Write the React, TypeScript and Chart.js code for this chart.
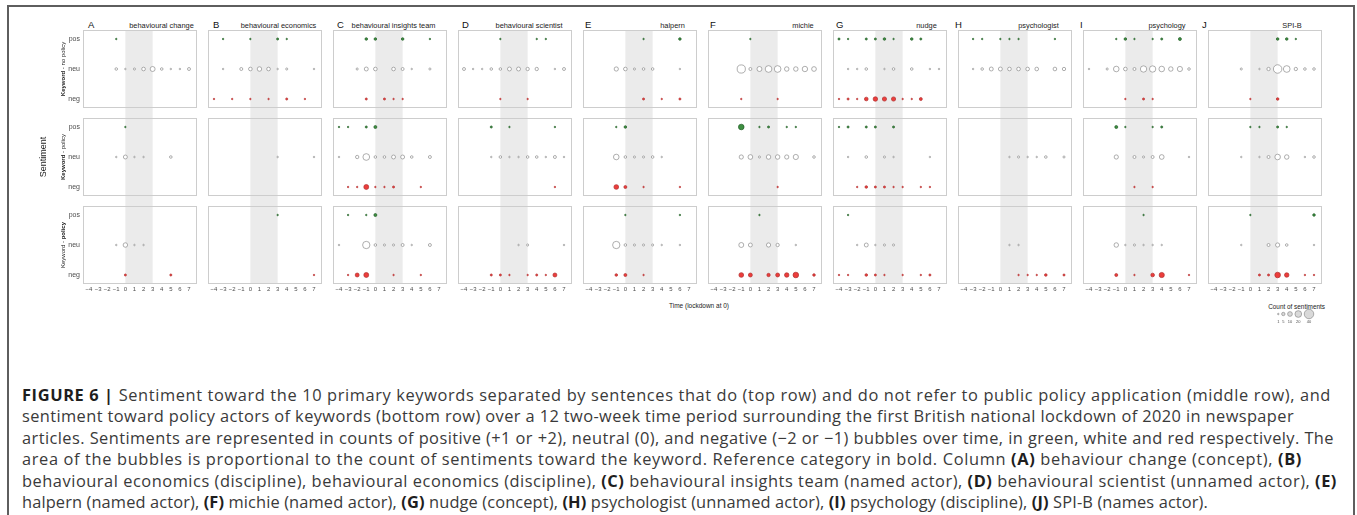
import React, { useEffect, useLayoutEffect, useRef } from "react";
import { Chart, registerables } from "chart.js";

Chart.register(...registerables);

// ---------------------------------------------------------------------------
// Data
// ---------------------------------------------------------------------------
const KEYWORDS = [
  "behavioural change",
  "behavioural economics",
  "behavioural insights team",
  "behavioural scientist",
  "halpern",
  "michie",
  "nudge",
  "psychologist",
  "psychology",
  "SPI-B",
];
const PANEL_LETTERS = ["A", "B", "C", "D", "E", "F", "G", "H", "I", "J"];
// two-week periods, lockdown at 0
const TIME_POINTS = [-4, -3, -2, -1, 0, 1, 2, 3, 4, 5, 6, 7];
const SENTIMENT_LABELS = ["neg", "neu", "pos"];
const LOCKDOWN_WINDOW = [0, 3];
const LEGEND_COUNTS = [1, 5, 10, 20, 40];

// Counts per keyword (one row per keyword, one column per time point; 0 = none)
// Sentences without public-policy reference
const noPolicyPos = [
  [0, 0, 0, 1, 0, 0, 0, 0, 0, 0, 0, 0],
  [0, 1, 0, 0, 1, 0, 0, 2, 1, 0, 0, 0],
  [0, 0, 0, 3, 3, 0, 0, 3, 0, 0, 1, 0],
  [0, 0, 0, 0, 1, 0, 0, 0, 1, 1, 0, 0],
  [0, 0, 0, 0, 0, 0, 1, 0, 0, 0, 3, 0],
  [0, 0, 0, 0, 1, 0, 0, 0, 0, 0, 0, 0],
  [2, 1, 0, 2, 2, 3, 1, 0, 3, 2, 0, 0],
  [0, 1, 1, 0, 1, 1, 1, 0, 0, 0, 1, 0],
  [0, 0, 0, 1, 3, 1, 0, 1, 2, 0, 4, 0],
  [0, 0, 0, 0, 0, 0, 0, 3, 3, 1, 0, 0],
];
const noPolicyNeu = [
  [0, 0, 0, 3, 1, 2, 6, 11, 3, 1, 1, 4],
  [0, 1, 0, 4, 6, 9, 6, 1, 2, 0, 0, 1],
  [0, 0, 2, 7, 6, 0, 6, 4, 1, 0, 2, 0],
  [4, 1, 1, 3, 3, 7, 7, 5, 5, 0, 1, 4],
  [0, 0, 0, 8, 6, 2, 3, 3, 0, 0, 1, 0],
  [0, 0, 0, 30, 4, 11, 20, 20, 9, 9, 13, 10],
  [0, 1, 1, 3, 0, 1, 3, 0, 3, 0, 1, 1],
  [0, 1, 3, 7, 7, 6, 6, 6, 6, 0, 6, 5],
  [1, 0, 2, 14, 6, 4, 18, 18, 14, 9, 12, 3],
  [0, 0, 0, 2, 0, 1, 5, 32, 20, 5, 3, 3],
];
const noPolicyNeg = [
  [0, 0, 0, 0, 0, 0, 0, 0, 0, 0, 0, 0],
  [1, 0, 1, 0, 1, 0, 1, 0, 2, 0, 1, 0],
  [0, 0, 0, 2, 0, 2, 1, 1, 0, 0, 0, 0],
  [0, 0, 0, 0, 1, 0, 0, 1, 0, 0, 0, 0],
  [0, 0, 0, 0, 0, 0, 2, 0, 1, 0, 2, 0],
  [0, 0, 0, 1, 0, 0, 0, 1, 0, 0, 0, 0],
  [1, 2, 1, 6, 9, 8, 8, 1, 1, 4, 0, 0],
  [0, 0, 0, 0, 0, 0, 0, 0, 0, 0, 0, 0],
  [0, 0, 0, 0, 1, 0, 2, 1, 0, 0, 0, 0],
  [0, 0, 0, 0, 1, 0, 0, 3, 0, 0, 0, 0],
];

// Sentences referring to public policy
const policyPos = [
  [0, 0, 0, 0, 1, 0, 0, 0, 0, 0, 0, 0],
  [0, 0, 0, 0, 0, 0, 0, 0, 0, 0, 0, 0],
  [1, 1, 0, 2, 4, 0, 0, 0, 0, 0, 0, 0],
  [0, 0, 0, 2, 0, 1, 0, 0, 0, 0, 1, 0],
  [0, 0, 0, 1, 3, 0, 0, 0, 0, 0, 0, 0],
  [0, 0, 0, 14, 0, 1, 2, 0, 1, 1, 0, 0],
  [1, 2, 0, 2, 2, 0, 2, 0, 0, 0, 0, 0],
  [0, 0, 0, 0, 0, 0, 0, 0, 0, 0, 0, 0],
  [0, 0, 0, 4, 1, 0, 0, 1, 2, 0, 0, 0],
  [0, 0, 0, 0, 1, 1, 0, 2, 1, 0, 0, 0],
];
const policyNeu = [
  [0, 0, 0, 1, 7, 1, 1, 0, 0, 3, 0, 0],
  [0, 0, 0, 0, 0, 0, 0, 1, 0, 0, 0, 1],
  [1, 0, 5, 20, 3, 3, 7, 7, 3, 0, 4, 0],
  [0, 0, 0, 1, 3, 1, 1, 3, 3, 1, 4, 1],
  [0, 0, 0, 14, 3, 2, 2, 3, 1, 0, 0, 0],
  [0, 0, 0, 8, 10, 2, 9, 9, 8, 12, 0, 3],
  [0, 1, 0, 3, 0, 2, 1, 0, 0, 0, 1, 0],
  [0, 0, 0, 0, 0, 1, 2, 1, 1, 3, 0, 2],
  [0, 0, 0, 8, 0, 4, 2, 4, 10, 0, 0, 1],
  [0, 0, 0, 1, 0, 1, 4, 14, 9, 0, 1, 3],
];
const policyNeg = [
  [0, 0, 0, 0, 0, 0, 0, 0, 0, 0, 0, 0],
  [0, 0, 0, 0, 0, 0, 0, 0, 0, 0, 0, 0],
  [0, 1, 1, 11, 1, 1, 2, 0, 0, 1, 0, 0],
  [0, 0, 0, 0, 0, 0, 0, 0, 0, 0, 1, 0],
  [0, 0, 0, 10, 4, 0, 1, 0, 0, 0, 1, 0],
  [0, 0, 0, 0, 0, 0, 0, 1, 0, 0, 0, 0],
  [0, 0, 1, 3, 2, 2, 1, 1, 0, 1, 1, 0],
  [0, 0, 0, 0, 0, 0, 0, 0, 0, 0, 0, 0],
  [0, 0, 0, 0, 0, 1, 0, 1, 0, 0, 0, 0],
  [0, 0, 0, 0, 0, 0, 0, 0, 0, 0, 0, 0],
];

// Sentiment toward policy actors of the keyword
const actorsPos = [
  [0, 0, 0, 0, 0, 0, 0, 0, 0, 0, 0, 0],
  [0, 0, 0, 0, 0, 0, 0, 1, 0, 0, 0, 0],
  [0, 1, 0, 1, 4, 0, 0, 0, 0, 0, 0, 0],
  [0, 0, 0, 0, 0, 0, 0, 0, 0, 0, 0, 0],
  [0, 0, 0, 0, 1, 0, 0, 0, 0, 0, 1, 0],
  [0, 0, 0, 0, 0, 1, 0, 0, 0, 0, 0, 0],
  [0, 1, 0, 0, 0, 0, 0, 0, 0, 0, 0, 0],
  [0, 0, 0, 0, 0, 0, 0, 0, 0, 0, 0, 0],
  [0, 0, 0, 0, 0, 0, 1, 0, 0, 0, 0, 0],
  [0, 0, 0, 0, 1, 0, 0, 0, 0, 0, 0, 3],
];
const actorsNeu = [
  [0, 0, 0, 1, 9, 1, 1, 0, 0, 0, 0, 0],
  [0, 0, 0, 0, 0, 0, 0, 0, 0, 0, 0, 0],
  [1, 0, 0, 24, 3, 2, 2, 4, 1, 0, 4, 0],
  [0, 0, 0, 0, 0, 0, 1, 2, 0, 0, 0, 1],
  [0, 0, 0, 24, 3, 2, 2, 2, 1, 0, 1, 0],
  [0, 0, 0, 11, 7, 0, 8, 5, 0, 1, 0, 0],
  [0, 0, 1, 7, 1, 2, 2, 0, 0, 0, 0, 0],
  [0, 0, 0, 0, 0, 1, 1, 0, 0, 0, 0, 0],
  [0, 0, 0, 9, 1, 2, 1, 1, 1, 0, 0, 0],
  [0, 0, 0, 1, 0, 0, 4, 8, 3, 0, 0, 1],
];
const actorsNeg = [
  [0, 0, 0, 0, 2, 0, 0, 0, 0, 2, 0, 0],
  [0, 0, 0, 0, 0, 0, 0, 0, 0, 0, 0, 1],
  [0, 1, 7, 11, 0, 0, 1, 0, 0, 1, 0, 0],
  [0, 0, 0, 2, 2, 1, 0, 1, 2, 1, 7, 0],
  [0, 0, 0, 3, 4, 0, 1, 0, 0, 0, 0, 0],
  [0, 0, 0, 10, 7, 0, 5, 7, 9, 14, 0, 3],
  [1, 1, 0, 3, 2, 1, 0, 1, 0, 1, 2, 0],
  [0, 0, 0, 0, 0, 0, 1, 1, 1, 3, 0, 2],
  [0, 0, 0, 4, 0, 1, 0, 6, 12, 0, 0, 1],
  [0, 0, 0, 0, 0, 2, 2, 14, 9, 0, 1, 1],
];

type LabelPart = { text: string; bold?: boolean };

const FACET_ROWS = [
  {
    label: [{ text: "Keyword", bold: true }, { text: " - no policy" }] as LabelPart[],
    pos: noPolicyPos,
    neu: noPolicyNeu,
    neg: noPolicyNeg,
  },
  {
    label: [{ text: "Keyword", bold: true }, { text: " - policy" }] as LabelPart[],
    pos: policyPos,
    neu: policyNeu,
    neg: policyNeg,
  },
  {
    label: [{ text: "Keyword - " }, { text: "policy", bold: true }] as LabelPart[],
    pos: actorsPos,
    neu: actorsNeu,
    neg: actorsNeg,
  },
];

// ---------------------------------------------------------------------------
// Layout and style
// ---------------------------------------------------------------------------
const PAGE_W = 1357;
const PAGE_H = 515;
const PANEL_LEFT0 = 83;
const PANEL_PITCH = 125;
const PANEL_W = 114;
const PANEL_H = 78;
const ROW_TOPS = [30, 118, 206];
const ROW_GAP = 10;
const Y_AXIS_W = 22;
const X_AXIS_H = 12;
const X_MIN = -4.66;
const X_MAX = 7.88;
const Y_MIN = 0.7;
const Y_MAX = 3.3;
const LETTER_X = [88, 213, 337, 462, 585, 710, 836, 955, 1080, 1202];
const TITLE_CENTER = [161.5, 278.5, 393.5, 529, 672.5, 803, 926.5, 1038.5, 1167, 1292];

const FONT = "'Liberation Sans', Arial, Helvetica, sans-serif";
const CAPTION_FONT = "'Open Sans', 'Liberation Sans', Arial, sans-serif";
const AXIS_TEXT = "#4d4d4d";
const SHADE = "#ebebeb";
const FRAME = "#cdcdcd";
const POS_FILL = "#3d8f41";
const POS_EDGE = "#245f28";
const NEG_FILL = "#ec3d3b";
const NEG_EDGE = "#b03030";
const NEU_FILL = "#ffffff";
const NEU_EDGE = "#8c8c8c";

// bubble area proportional to count
const radiusOf = (n: number) => 0.75 * Math.sqrt(n);

const formatTime = (v: number) => (v < 0 ? "\u2212" + Math.abs(v) : String(v));

// Lockdown shading plus the light panel frame
const panelFrame = {
  id: "panelFrame",
  beforeDatasetsDraw(chart: any, _args: any, opts: any) {
    const { ctx, chartArea, scales } = chart;
    const x0 = scales.x.getPixelForValue(LOCKDOWN_WINDOW[0]);
    const x1 = scales.x.getPixelForValue(LOCKDOWN_WINDOW[1]);
    const bottom = opts && opts.extendBelow ? chart.height : chartArea.bottom;
    ctx.save();
    ctx.fillStyle = SHADE;
    ctx.fillRect(x0, chartArea.top, x1 - x0, bottom - chartArea.top);
    ctx.strokeStyle = FRAME;
    ctx.lineWidth = 1;
    ctx.strokeRect(
      chartArea.left + 0.5,
      chartArea.top + 0.5,
      chartArea.width - 1,
      chartArea.height - 1
    );
    ctx.restore();
  },
};

function toBubbles(counts: number[], y: number) {
  const out: { x: number; y: number; r: number }[] = [];
  counts.forEach((n, i) => {
    if (n > 0) out.push({ x: TIME_POINTS[i], y, r: radiusOf(n) });
  });
  return out;
}

function Panel({ col, row }: { col: number; row: number }) {
  const ref = useRef<HTMLCanvasElement>(null);
  const showY = col === 0;
  const showX = row === FACET_ROWS.length - 1;
  const w = PANEL_W + (showY ? Y_AXIS_W : 0);
  const h = PANEL_H + (showX ? X_AXIS_H : ROW_GAP);
  const left = PANEL_LEFT0 + col * PANEL_PITCH - (showY ? Y_AXIS_W : 0);
  const top = ROW_TOPS[row];

  useEffect(() => {
    if (!ref.current) return;
    const facet = FACET_ROWS[row];
    const chart = new Chart(ref.current, {
      type: "bubble",
      data: {
        datasets: [
          {
            data: toBubbles(facet.neu[col], 2),
            backgroundColor: NEU_FILL,
            borderColor: NEU_EDGE,
            borderWidth: 0.7,
          },
          {
            data: toBubbles(facet.neg[col], 1),
            backgroundColor: NEG_FILL,
            borderColor: NEG_EDGE,
            borderWidth: 0.7,
          },
          {
            data: toBubbles(facet.pos[col], 3),
            backgroundColor: POS_FILL,
            borderColor: POS_EDGE,
            borderWidth: 0.7,
          },
        ],
      },
      options: {
        responsive: false,
        animation: false,
        devicePixelRatio: 1,
        events: [],
        layout: {
          autoPadding: false,
          padding: { left: 0, right: 0, top: 0, bottom: showX ? 0 : ROW_GAP },
        },
        plugins: {
          legend: { display: false },
          tooltip: { enabled: false },
          panelFrame: { extendBelow: !showX },
        } as any,
        scales: {
          x: {
            type: "linear",
            min: X_MIN,
            max: X_MAX,
            display: showX,
            grid: { display: false, drawTicks: false },
            border: { display: false },
            ticks: {
              autoSkip: false,
              maxRotation: 0,
              padding: 2,
              color: AXIS_TEXT,
              font: { family: FONT, size: 6 },
              callback: (v: any) => formatTime(Number(v)),
            },
            afterBuildTicks: (s: any) => {
              s.ticks = TIME_POINTS.map((v) => ({ value: v }));
            },
            afterFit: (s: any) => {
              s.height = showX ? X_AXIS_H : 0;
              s.paddingLeft = 0;
              s.paddingRight = 0;
            },
          },
          y: {
            type: "linear",
            min: Y_MIN,
            max: Y_MAX,
            display: showY,
            grid: { display: false, drawTicks: false },
            border: { display: false },
            ticks: {
              autoSkip: false,
              padding: 3,
              color: AXIS_TEXT,
              font: { family: FONT, size: 7 },
              callback: (v: any) => SENTIMENT_LABELS[Number(v) - 1] ?? "",
            },
            afterBuildTicks: (s: any) => {
              s.ticks = SENTIMENT_LABELS.map((_, i) => ({ value: i + 1 }));
            },
            afterFit: (s: any) => {
              s.width = showY ? Y_AXIS_W : 0;
              s.paddingTop = 0;
              s.paddingBottom = 0;
            },
          },
        },
      } as any,
      plugins: [panelFrame],
    });
    return () => chart.destroy();
  }, [col, row]);

  return (
    <canvas
      ref={ref}
      width={w}
      height={h}
      style={{ position: "absolute", left, top, width: w, height: h }}
    />
  );
}

// Size key: "Count of sentiments"
const LEGEND_LEFT = 1270;
const LEGEND_TOP = 309;
const LEGEND_W = 46;
const LEGEND_PLOT_H = 10;
const LEGEND_AXIS_H = 6;
const LEGEND_FIRST_X = 8.3;
const LEGEND_GAP = 2.6;

function SizeLegend() {
  const ref = useRef<HTMLCanvasElement>(null);
  useEffect(() => {
    if (!ref.current) return;
    const radii = LEGEND_COUNTS.map(radiusOf);
    const centers: number[] = [];
    radii.forEach((r, i) => {
      centers.push(
        i === 0 ? LEGEND_FIRST_X : centers[i - 1] + radii[i - 1] + r + LEGEND_GAP
      );
    });
    const chart = new Chart(ref.current, {
      type: "bubble",
      data: {
        datasets: [
          {
            data: centers.map((c, i) => ({ x: c, y: 0.5, r: radii[i] })),
            backgroundColor: "#d9d9d9",
            borderColor: "#8c8c8c",
            borderWidth: 0.7,
            clip: false,
          } as any,
        ],
      },
      options: {
        responsive: false,
        animation: false,
        devicePixelRatio: 1,
        events: [],
        layout: { autoPadding: false, padding: 0 },
        plugins: { legend: { display: false }, tooltip: { enabled: false } },
        scales: {
          x: {
            type: "linear",
            min: 0,
            max: LEGEND_W,
            grid: { display: false, drawTicks: false },
            border: { display: false },
            ticks: {
              autoSkip: false,
              maxRotation: 0,
              padding: 0,
              color: AXIS_TEXT,
              font: { family: FONT, size: 4 },
              callback: (_v: any, i: number) => String(LEGEND_COUNTS[i]),
            },
            afterBuildTicks: (s: any) => {
              s.ticks = centers.map((c) => ({ value: c }));
            },
            afterFit: (s: any) => {
              s.height = LEGEND_AXIS_H;
              s.paddingLeft = 0;
              s.paddingRight = 0;
            },
          },
          y: {
            type: "linear",
            min: 0,
            max: 1,
            display: false,
            afterFit: (s: any) => {
              s.width = 0;
            },
          },
        },
      } as any,
    });
    return () => chart.destroy();
  }, []);
  const h = LEGEND_PLOT_H + LEGEND_AXIS_H;
  return (
    <canvas
      ref={ref}
      width={LEGEND_W}
      height={h}
      style={{ position: "absolute", left: LEGEND_LEFT, top: LEGEND_TOP, width: LEGEND_W, height: h }}
    />
  );
}

// ---------------------------------------------------------------------------
// Caption
// ---------------------------------------------------------------------------
const CAPTION_LINES: LabelPart[][] = [
  [
    { text: "FIGURE 6 |", bold: true },
    {
      text: " Sentiment toward the 10 primary keywords separated by sentences that do (top row) and do not refer to public policy application (middle row), and",
    },
  ],
  [
    {
      text: "sentiment toward policy actors of keywords (bottom row) over a 12 two-week time period surrounding the first British national lockdown of 2020 in newspaper",
    },
  ],
  [
    {
      text: "articles. Sentiments are represented in counts of positive (+1 or +2), neutral (0), and negative (\u22122 or \u22121) bubbles over time, in green, white and red respectively. The",
    },
  ],
  [
    {
      text: "area of the bubbles is proportional to the count of sentiments toward the keyword. Reference category in bold. Column ",
    },
    { text: "(A)", bold: true },
    { text: " behaviour change (concept), " },
    { text: "(B)", bold: true },
  ],
  [
    { text: "behavioural economics (discipline), behavioural economics (discipline), " },
    { text: "(C)", bold: true },
    { text: " behavioural insights team (named actor), " },
    { text: "(D)", bold: true },
    { text: " behavioural scientist (unnamed actor), " },
    { text: "(E)", bold: true },
  ],
  [
    { text: "halpern (named actor), " },
    { text: "(F)", bold: true },
    { text: " michie (named actor), " },
    { text: "(G)", bold: true },
    { text: " nudge (concept), " },
    { text: "(H)", bold: true },
    { text: " psychologist (unnamed actor), " },
    { text: "(I)", bold: true },
    { text: " psychology (discipline), " },
    { text: "(J)", bold: true },
    { text: " SPI-B (names actor)." },
  ],
];
const CAPTION_LEFT = 22;
const CAPTION_TOP = 383.5;
const CAPTION_LINE_H = 21.5;
const CAPTION_LINE_ENDS = [1331, 1294, 1334, 1302, 1337, 1208];

function Parts({ parts, boldColor }: { parts: LabelPart[]; boldColor?: string }) {
  return (
    <>
      {parts.map((p, i) =>
        p.bold ? (
          <b key={i} style={{ fontWeight: 700, color: boldColor }}>
            {p.text}
          </b>
        ) : (
          <span key={i}>{p.text}</span>
        )
      )}
    </>
  );
}

// One caption line, tracked so that it ends where the typeset line ends
function CaptionLine({ parts, index }: { parts: LabelPart[]; index: number }) {
  const ref = useRef<HTMLDivElement>(null);
  useLayoutEffect(() => {
    const el = ref.current;
    if (!el) return;
    const fit = () => {
      el.style.letterSpacing = "0px";
      const natural = el.getBoundingClientRect().width;
      const chars = Math.max((el.textContent || "").length, 1);
      const target = CAPTION_LINE_ENDS[index] - CAPTION_LEFT;
      el.style.letterSpacing = `${(target - natural) / chars}px`;
    };
    fit();
    if ((document as any).fonts && (document as any).fonts.ready) {
      (document as any).fonts.ready.then(fit);
    }
  }, [index]);
  return (
    <div
      ref={ref}
      style={{
        position: "absolute",
        left: CAPTION_LEFT,
        top: CAPTION_TOP + index * CAPTION_LINE_H,
        whiteSpace: "nowrap",
        fontFamily: CAPTION_FONT,
        fontSize: 16.4,
        lineHeight: `${CAPTION_LINE_H}px`,
        color: "#3a3a3a",
      }}
    >
      <Parts parts={parts} boldColor="#1e1e1e" />
    </div>
  );
}

export default function App() {
  const rowCenters = ROW_TOPS.map((t) => t + PANEL_H / 2);
  return (
    <div
      style={{
        position: "fixed",
        left: 0,
        top: 0,
        width: PAGE_W,
        height: PAGE_H,
        overflow: "hidden",
        background: "#ffffff",
        fontFamily: FONT,
      }}
    >
      {/* outer frame */}
      <div
        style={{
          position: "absolute",
          left: 7,
          top: 5,
          width: 1348,
          height: 700,
          boxSizing: "border-box",
          border: "2px solid #5e5e5e",
        }}
      />

      {FACET_ROWS.map((_, row) =>
        KEYWORDS.map((_k, col) => <Panel key={`${row}-${col}`} col={col} row={row} />)
      )}

      {/* facet headings */}
      {PANEL_LETTERS.map((letter, i) => (
        <div
          key={letter}
          style={{
            position: "absolute",
            left: LETTER_X[i],
            top: 20.3,
            fontSize: 9.5,
            lineHeight: "9.5px",
            color: "#111",
            whiteSpace: "nowrap",
          }}
        >
          {letter}
        </div>
      ))}
      {KEYWORDS.map((kw, i) => (
        <div
          key={kw}
          style={{
            position: "absolute",
            left: TITLE_CENTER[i],
            top: 22,
            transform: "translateX(-50%)",
            fontSize: 7.4,
            lineHeight: "7.4px",
            color: "#1a1a1a",
            whiteSpace: "nowrap",
          }}
        >
          {kw}
        </div>
      ))}

      {/* row labels */}
      {FACET_ROWS.map((r, i) => (
        <div
          key={i}
          style={{
            position: "absolute",
            left: 62.5,
            top: rowCenters[i],
            transform: "translate(-50%, -50%) rotate(-90deg)",
            fontSize: 6,
            lineHeight: "7px",
            color: "#1a1a1a",
            whiteSpace: "nowrap",
          }}
        >
          <Parts parts={r.label} />
        </div>
      ))}
      <div
        style={{
          position: "absolute",
          left: 43,
          top: rowCenters[1],
          transform: "translate(-50%, -50%) rotate(-90deg)",
          fontSize: 9,
          lineHeight: "10px",
          color: "#1a1a1a",
          whiteSpace: "nowrap",
        }}
      >
        Sentiment
      </div>

      {/* x-axis title */}
      <div
        style={{
          position: "absolute",
          left: 699,
          top: 305.2,
          transform: "translate(-50%, -50%)",
          fontSize: 6.5,
          lineHeight: "7px",
          color: "#1a1a1a",
          whiteSpace: "nowrap",
        }}
      >
        Time (lockdown at 0)
      </div>

      {/* size key */}
      <div
        style={{
          position: "absolute",
          left: 1296.6,
          top: 305.5,
          transform: "translate(-50%, -50%)",
          fontSize: 6.4,
          lineHeight: "7px",
          color: "#1a1a1a",
          whiteSpace: "nowrap",
        }}
      >
        Count of sentiments
      </div>
      <SizeLegend />

      {/* caption */}
      {CAPTION_LINES.map((line, i) => (
        <CaptionLine key={i} parts={line} index={i} />
      ))}
    </div>
  );
}
